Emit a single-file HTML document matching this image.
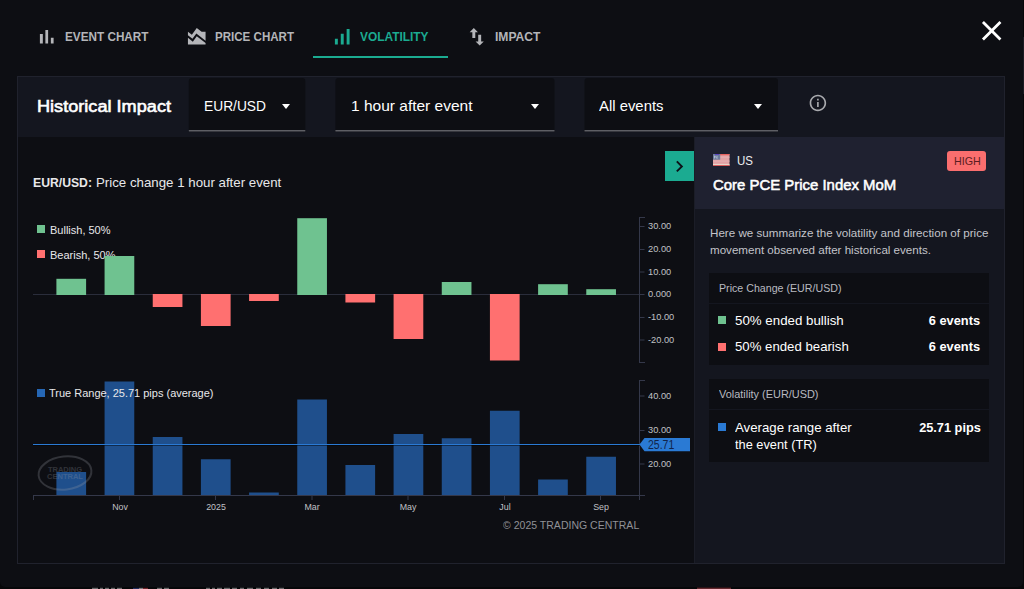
<!DOCTYPE html>
<html><head><meta charset="utf-8">
<style>
*{box-sizing:border-box;margin:0;padding:0}
html,body{width:1024px;height:589px;overflow:hidden;background:#060709}
body{font-family:"Liberation Sans",sans-serif;position:relative;color:#fff}
.abs{position:absolute}
#dlg{position:absolute;left:0;top:0;width:1023px;height:587px;background:#0d0e13;border-radius:0 0 5px 5px}
.t{position:absolute;white-space:nowrap;line-height:1}
.tab{font-weight:bold;font-size:13px;color:#b4b5b9}
#panel{position:absolute;left:17px;top:76px;width:988px;height:488px;border:1px solid #20222d;background:#0d0e13}
#hdr{position:absolute;left:18px;top:77px;width:986px;height:60px;background:#14161f}
.sel{position:absolute;top:78px;height:54px;background:linear-gradient(#0d0e13 0 52px,#5e5f65 52px 53px,#36373e 53px 54px);border-radius:3px 3px 0 0}
.caret{position:absolute;width:0;height:0;border-left:4.750px solid transparent;border-right:4.750px solid transparent;border-top:5px solid #fff;top:104px}
#side{position:absolute;left:694px;top:137px;width:310px;height:426px;background:#14161f;border-left:1px solid #1b1d27}
#sidehdr{position:absolute;left:695px;top:137px;width:309px;height:72px;background:#1f2130}
.card{position:absolute;left:709px;width:280px;background:#0d0e13}
.bar{position:absolute}
.g{background:#6fc290}.r{background:#ff7070}.b{background:#1f4f8c}
.ax{position:absolute;background:#34384a}
.yl{font-size:9.500px;color:#c0c1c6;left:647.500px;transform:scaleX(.975);transform-origin:left}
.xl{font-size:9.500px;color:#c0c1c6;transform:translateX(-50%) scaleX(.93)}
</style></head><body>
<div id="dlg"></div>

<!-- tabs -->
<svg class="abs" style="left:34.600px;top:24.750px" width="23.500" height="23.500" viewBox="0 0 24 24"><path d="M5 9.200h3V19H5zM10.600 5h2.800v14h-2.800zm5.600 8H19v6h-2.800z" fill="#b4b5b9"/></svg>
<div class="t tab" id="t1" style="left:65px;top:30px;transform:scaleX(0.9032);transform-origin:left">EVENT CHART</div>
<svg class="abs" style="left:184.800px;top:24.750px" width="23.500" height="23.500" viewBox="0 0 24 24"><path d="M3 13v7h18v-1.500l-9-7L8 17l-5-4zm0-6l4 3 5-7 5 4h4v8.970l-9.400-7.310-3.980 5.480L3 10.440V7z" fill="#b4b5b9"/></svg>
<div class="t tab" id="t2" style="left:215px;top:30px;transform:scaleX(0.8892);transform-origin:left">PRICE CHART</div>
<svg class="abs" style="left:330.250px;top:24.750px" width="23.500" height="23.500" viewBox="0 0 24 24"><path d="M17 4h3v16h-3zM5 14h3v6H5zm6-5h3v11h-3z" fill="#1bab91"/></svg>
<div class="t tab" id="t3" style="left:360px;top:30px;color:#1bab91;transform:scaleX(0.9149);transform-origin:left">VOLATILITY</div>
<div class="abs" style="left:313px;top:56px;width:135px;height:2px;background:#1bab91"></div>
<svg class="abs" style="left:465px;top:24.750px" width="23.500" height="23.500" viewBox="0 0 24 24"><path d="M9 3L4.800 7.400H7.500V13.300H10.500V7.400H13.200z M15 21l4.200-4.100H16.500V10H13.500v6.900H10.800z" fill="#b4b5b9"/></svg>
<div class="t tab" id="t4" style="left:495px;top:30px;transform:scaleX(0.9309);transform-origin:left">IMPACT</div>
<svg class="abs" style="left:975px;top:14px" width="33.400" height="33.400" viewBox="0 0 24 24"><path d="M19 6.410L17.590 5 12 10.590 6.410 5 5 6.410 10.590 12 5 17.590 6.410 19 12 13.410 17.590 19 19 17.590 13.410 12z" fill="#fff"/></svg>

<div id="panel"></div>
<div id="hdr"></div>
<div class="t" id="hi" style="left:37px;top:98px;font-size:17px;font-weight:normal;-webkit-text-stroke:0.600px #fff;transform:scaleX(1.0665);transform-origin:left">Historical Impact</div>
<svg class="abs" style="left:0;top:0" width="1024" height="140" viewBox="0 0 1024 140"><path d="M188.8 132V81a3 3 0 0 1 3-3H302.3a3 3 0 0 1 3 3V132z" fill="#0d0e13"/><rect x="188.8" y="130" width="116.5" height="1" fill="#5e5f65"/><rect x="188.8" y="131" width="116.5" height="1" fill="#36373e"/><path d="M335.4 132V81a3 3 0 0 1 3-3H551.5a3 3 0 0 1 3 3V132z" fill="#0d0e13"/><rect x="335.4" y="130" width="219.1" height="1" fill="#5e5f65"/><rect x="335.4" y="131" width="219.1" height="1" fill="#36373e"/><path d="M584.5 132V81a3 3 0 0 1 3-3H775.0a3 3 0 0 1 3 3V132z" fill="#0d0e13"/><rect x="584.5" y="130" width="193.5" height="1" fill="#5e5f65"/><rect x="584.5" y="131" width="193.5" height="1" fill="#36373e"/></svg>
<div class="t" id="s1" style="left:204px;top:98px;font-size:15px;transform:scaleX(0.9183);transform-origin:left">EUR/USD</div>
<div class="caret" style="left:282px"></div>
<div class="t" id="s2" style="left:351px;top:98px;font-size:15px;transform:scaleX(1.0334);transform-origin:left">1 hour after event</div>
<div class="caret" style="left:531px"></div>
<div class="t" id="s3" style="left:599px;top:98px;font-size:15px;transform:scaleX(0.9916);transform-origin:left">All events</div>
<div class="caret" style="left:754px"></div>
<svg class="abs" style="left:808.100px;top:92.600px" width="19.800" height="19.800" viewBox="0 0 24 24"><path d="M11 7h2v2h-2zm0 4h2v6h-2zm1-9C6.480 2 2 6.480 2 12s4.480 10 10 10 10-4.480 10-10S17.520 2 12 2zm0 18c-4.410 0-8-3.590-8-8s3.590-8 8-8 8 3.590 8 8-3.590 8-8 8z" fill="#a9aaae"/></svg>

<!-- chart -->
<div class="t" id="cta" style="left:33px;top:176px;font-size:13px;color:#e8e8ea;font-weight:bold;transform:scaleX(0.9388);transform-origin:left">EUR/USD:</div><div class="t" id="ctb" style="left:95.750px;top:176px;font-size:13px;color:#e8e8ea;transform:scaleX(1.0213);transform-origin:left">Price change 1 hour after event</div>
<div class="abs g" style="left:37px;top:225px;width:8px;height:8px"></div>
<div class="t" id="l1" style="left:49.500px;top:225px;font-size:11px;color:#e8e8ea;transform:scaleX(0.9992);transform-origin:left">Bullish, 50%</div>
<div class="abs r" style="left:37px;top:250px;width:8px;height:8px"></div>
<div class="t" id="l2" style="left:49.500px;top:250px;font-size:11px;color:#e8e8ea;transform:scaleX(1.0010);transform-origin:left">Bearish, 50%</div>
<div id="chart">
<svg class="abs" style="left:0;top:0" width="700" height="560" viewBox="0 0 700 560">
<rect x="33" y="294" width="606" height="1" fill="#2a2d3b"/>
<rect x="56.40" y="278.8" width="29.7" height="16.20" fill="#6fc290"/>
<rect x="104.57" y="256" width="29.7" height="39.00" fill="#6fc290"/>
<rect x="152.74" y="294" width="29.7" height="13.00" fill="#ff7070"/>
<rect x="200.91" y="294" width="29.7" height="32.00" fill="#ff7070"/>
<rect x="249.08" y="294" width="29.7" height="7.00" fill="#ff7070"/>
<rect x="297.25" y="218.2" width="29.7" height="76.80" fill="#6fc290"/>
<rect x="345.42" y="294" width="29.7" height="8.50" fill="#ff7070"/>
<rect x="393.59" y="294" width="29.7" height="45.00" fill="#ff7070"/>
<rect x="441.76" y="282" width="29.7" height="13.00" fill="#6fc290"/>
<rect x="489.93" y="294" width="29.7" height="66.50" fill="#ff7070"/>
<rect x="538.10" y="284.2" width="29.7" height="10.80" fill="#6fc290"/>
<rect x="586.27" y="289.2" width="29.7" height="5.80" fill="#6fc290"/>
<rect x="56.40" y="472" width="29.7" height="23.50" fill="#1f4f8c"/>
<rect x="104.57" y="381.5" width="29.7" height="114.00" fill="#1f4f8c"/>
<rect x="152.74" y="437" width="29.7" height="58.50" fill="#1f4f8c"/>
<rect x="200.91" y="459.25" width="29.7" height="36.25" fill="#1f4f8c"/>
<rect x="249.08" y="492.5" width="29.7" height="3.00" fill="#1f4f8c"/>
<rect x="297.25" y="399.5" width="29.7" height="96.00" fill="#1f4f8c"/>
<rect x="345.42" y="465" width="29.7" height="30.50" fill="#1f4f8c"/>
<rect x="393.59" y="434" width="29.7" height="61.50" fill="#1f4f8c"/>
<rect x="441.76" y="438.25" width="29.7" height="57.25" fill="#1f4f8c"/>
<rect x="489.93" y="410.75" width="29.7" height="84.75" fill="#1f4f8c"/>
<rect x="538.10" y="479.5" width="29.7" height="16.00" fill="#1f4f8c"/>
<rect x="586.27" y="456.75" width="29.7" height="38.75" fill="#1f4f8c"/>
<g fill="#34384a">
<rect x="639" y="217" width="1" height="146"/><rect x="639" y="217" width="6" height="1"/><rect x="639" y="362" width="6" height="1"/>
<rect x="639" y="226" width="5.500" height="1"/>
<rect x="639" y="249" width="5.500" height="1"/>
<rect x="639" y="271.5" width="5.500" height="1"/>
<rect x="639" y="294" width="5.500" height="1"/>
<rect x="639" y="317" width="5.500" height="1"/>
<rect x="639" y="339.5" width="5.500" height="1"/>
<rect x="639" y="380" width="1" height="120"/><rect x="639" y="380" width="6" height="1"/>
<rect x="33" y="495" width="612" height="1"/><rect x="33" y="495" width="1" height="5"/>
<rect x="639" y="395.5" width="5.500" height="1"/>
<rect x="639" y="430" width="5.500" height="1"/>
<rect x="639" y="463.5" width="5.500" height="1"/>
<rect x="119.0" y="495" width="1" height="5"/>
<rect x="215.0" y="495" width="1" height="5"/>
<rect x="311.5" y="495" width="1" height="5"/>
<rect x="407.5" y="495" width="1" height="5"/>
<rect x="504.0" y="495" width="1" height="5"/>
<rect x="600.0" y="495" width="1" height="5"/>
</g>
<rect x="33" y="445" width="607" height="1" fill="#000" opacity="0.45"/><rect x="33" y="444" width="607" height="1" fill="#2a7ad4"/>
<path d="M639.500 444.500L644.500 438H690V451.300H644.500z" fill="#2a7ad4"/>
</svg>
<div class="t yl" style="top:221.0px">30.00</div>
<div class="t yl" style="top:244.0px">20.00</div>
<div class="t yl" style="top:266.5px">10.00</div>
<div class="t yl" style="top:289.0px">0.000</div>
<div class="t yl" style="top:312.0px">-10.00</div>
<div class="t yl" style="top:334.5px">-20.00</div>
<div class="t yl" style="top:390.5px">40.00</div>
<div class="t yl" style="top:425.0px">30.00</div>
<div class="t yl" style="top:459.0px">20.00</div>
<div class="t xl" style="left:119.5px;top:501.500px">Nov</div>
<div class="t xl" style="left:215.5px;top:501.500px">2025</div>
<div class="t xl" style="left:312px;top:501.500px">Mar</div>
<div class="t xl" style="left:408px;top:501.500px">May</div>
<div class="t xl" style="left:504.5px;top:501.500px">Jul</div>
<div class="t xl" style="left:600.5px;top:501.500px">Sep</div>
<div class="t" id="avl" style="left:647.500px;top:438.500px;font-size:12px;color:#12244a;transform:scaleX(0.8741);transform-origin:left">25.71</div>
<div class="abs" style="left:37px;top:388.750px;width:8px;height:8px;background:#2566b4"></div>
<div class="t" id="l3" style="left:49px;top:388.250px;font-size:11px;color:#e8e8ea;transform:scaleX(0.9988);transform-origin:left">True Range, 25.71 pips (average)</div>
<svg class="abs" style="left:36px;top:453px" width="58" height="40" viewBox="0 0 58 40"><g opacity="0.26"><ellipse cx="29" cy="20" rx="26.500" ry="16.500" fill="none" stroke="#9a9ca6" stroke-width="2" transform="rotate(-6 29 20)"/><text x="29" y="18.500" font-family="Liberation Sans" font-weight="bold" font-size="7.500" fill="#9a9ca6" text-anchor="middle">TRADING</text><text x="29" y="25.500" font-family="Liberation Sans" font-weight="bold" font-size="7.500" fill="#9a9ca6" text-anchor="middle">CENTRAL</text></g></svg>
<div class="t" id="cp" style="left:502.500px;top:520px;font-size:11.500px;color:#909196;transform:scaleX(0.9152);transform-origin:left">© 2025 TRADING CENTRAL</div>
</div>

<!-- side -->
<div class="abs" style="left:665px;top:151px;width:29px;height:29.500px;background:#1bab91"></div>
<svg class="abs" style="left:667.500px;top:154.600px" width="22.800" height="22.800" viewBox="0 0 24 24"><path d="M10 6L8.590 7.410 13.170 12l-4.580 4.590L10 18l6-6z" fill="#0d1118"/></svg>
<div id="side"></div>
<div id="sidehdr"></div>
<!-- flag -->
<svg class="abs" style="left:713px;top:153.800px" width="16.500" height="12.200" viewBox="0 0 16.500 12.200"><rect width="16.500" height="12.200" fill="#e2a2a4"/><rect x="7" y="0" width="9.500" height="1.300" fill="#e8635f"/><rect x="7" y="2.600" width="9.500" height="1.200" fill="#e6b0b1"/><rect x="0" y="6.500" width="16.500" height="1.200" fill="#e6b0b1"/><rect y="9.900" width="16.500" height="1.100" fill="#e8d9cc"/><rect y="11" width="16.500" height="1.200" fill="#d95c5c"/><rect width="7.200" height="5.700" fill="#6c7a9c"/><path d="M1.500 4.500V1.800L4 4.500V1.800" stroke="#b4bfd2" stroke-width="0.900" fill="none"/><rect x="2" y="0" width="4" height="0.900" fill="#5a40c8"/></svg>
<div class="t" id="us" style="left:737px;top:154px;font-size:13.500px;color:#eeeef0;transform:scaleX(0.8526);transform-origin:left">US</div>
<div class="abs" style="left:947px;top:151px;width:39px;height:20px;background:#fa6e6e;border-radius:3px"></div>
<div class="t" id="hg" style="left:953.500px;top:155.500px;font-size:11.500px;color:#5c1d22;transform:scaleX(0.9304);transform-origin:left">HIGH</div>
<div class="t" id="ttl" style="left:713px;top:176.500px;font-size:15.500px;font-weight:normal;-webkit-text-stroke:0.550px #fff;color:#fff;transform:scaleX(0.9626);transform-origin:left">Core PCE Price Index MoM</div>
<div class="t" id="d1" style="left:709.500px;top:227.750px;font-size:11.500px;color:#c3c4ca;transform:scaleX(1.0109);transform-origin:left">Here we summarize the volatility and direction of price</div>
<div class="t" id="d2" style="left:709.500px;top:245.250px;font-size:11.500px;color:#c3c4ca;transform:scaleX(1.0080);transform-origin:left">movement observed after historical events.</div>

<div class="card" style="top:273px;height:92px"></div>
<div class="abs" style="left:709px;top:303px;width:280px;height:1px;background:#14161f"></div>
<div class="t" id="c1h" style="left:718.500px;top:282.750px;font-size:11.500px;color:#b9bac0;transform:scaleX(0.9259);transform-origin:left">Price Change (EUR/USD)</div>
<div class="abs g" style="left:718px;top:316px;width:8px;height:8px"></div>
<div class="t" id="r1" style="left:735px;top:314px;font-size:13.500px;color:#fff;transform:scaleX(0.9856);transform-origin:left">50% ended bullish</div>
<div class="t" id="v1" style="right:43.500px;top:314px;font-size:13px;font-weight:bold;color:#fff;transform:scaleX(0.9847);transform-origin:right">6 events</div>
<div class="abs r" style="left:718px;top:343px;width:8px;height:8px"></div>
<div class="t" id="r2" style="left:735px;top:340px;font-size:13.500px;color:#fff;transform:scaleX(0.9777);transform-origin:left">50% ended bearish</div>
<div class="t" id="v2" style="right:43.500px;top:340px;font-size:13px;font-weight:bold;color:#fff;transform:scaleX(0.9847);transform-origin:right">6 events</div>

<div class="card" style="top:379px;height:83px"></div>
<div class="abs" style="left:709px;top:409px;width:280px;height:1px;background:#14161f"></div>
<div class="t" id="c2h" style="left:718.500px;top:389px;font-size:11.500px;color:#b9bac0;transform:scaleX(0.9493);transform-origin:left">Volatility (EUR/USD)</div>
<div class="abs" style="left:718px;top:423px;width:8px;height:8px;background:#2a7ad4"></div>
<div class="t" id="r3" style="left:735px;top:421px;font-size:13.500px;color:#fff;transform:scaleX(0.9803);transform-origin:left">Average range after</div>
<div class="t" id="r4" style="left:735px;top:438px;font-size:13.500px;color:#fff;transform:scaleX(0.9475);transform-origin:left">the event (TR)</div>
<div class="t" id="v3" style="right:43.500px;top:421px;font-size:13px;font-weight:bold;color:#fff;transform:scaleX(0.9821);transform-origin:right">25.71 pips</div>

<svg class="abs" style="left:0;top:586px" width="1024" height="3" viewBox="0 0 1024 3"><g opacity="0.55"><path d="M92 2.500h6M100 2.500h3M105 2.500h4M111 2.500h4M117 2.500h5M157 2.500h5M164 2.500h5M206 2.500h4M212 2.500h3M217 2.500h5M224 2.500h6M232 2.500h5M240 2.500h4M247 2.500h6M256 2.500h5M264 2.500h5M272 2.500h5M279 2.500h5" stroke="#b8b8bc" stroke-width="1.400"/><rect x="133" y="1.800" width="6" height="1.200" fill="#3a4aa0"/><rect x="139" y="1.800" width="4" height="1.200" fill="#d8d8dc"/><rect x="143" y="1.800" width="5" height="1.200" fill="#c83c48"/><rect x="697" y="1.600" width="34" height="1.400" fill="#b0444c"/></g></svg>
<div class="abs" style="left:1023px;top:37px;width:1px;height:57px;background:#1a1b22"></div>
</body></html>
